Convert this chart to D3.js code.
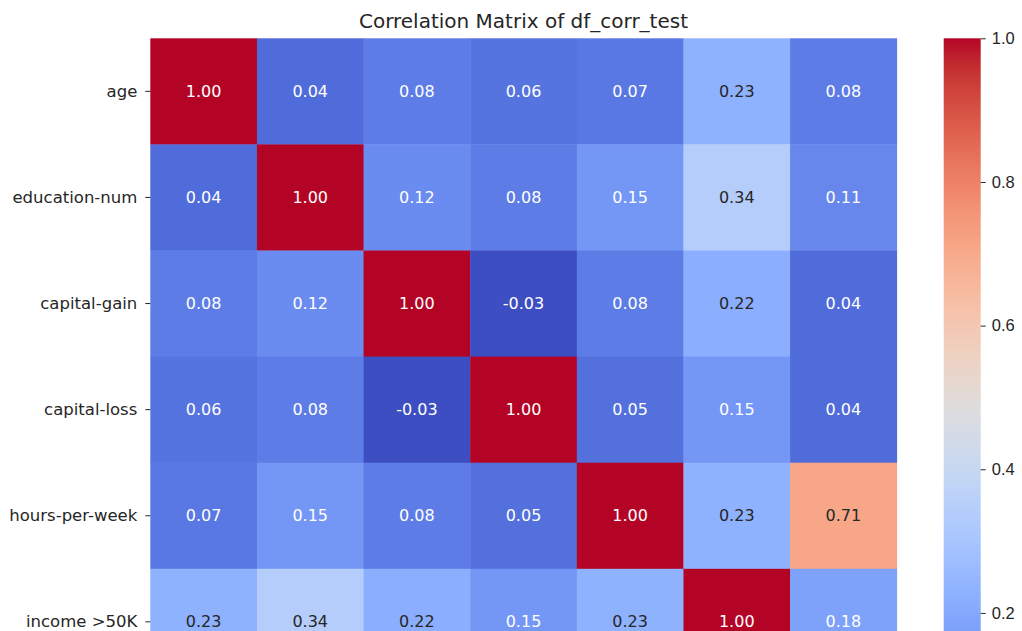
<!DOCTYPE html>
<html>
<head>
<meta charset="utf-8">
<script src="https://cdn.jsdelivr.net/npm/d3@7"></script>
<style>
  body { margin: 0; background: #fff; }
  svg { display: block; font-family: "DejaVu Sans", sans-serif; }
</style>
</head>
<body>
<script>
'use strict';

// variables of the matrix (last one is cut off below the frame in the reference)
const variables = ["age", "education-num", "capital-gain", "capital-loss",
                   "hours-per-week", "income >50K", "full-time"];

// correlation values, row by row
const corrRows = [
  [1.00, 0.04, 0.08, 0.06, 0.07, 0.23, 0.08],
  [0.04, 1.00, 0.12, 0.08, 0.15, 0.34, 0.11],
  [0.08, 0.12, 1.00, -0.03, 0.08, 0.22, 0.04],
  [0.06, 0.08, -0.03, 1.00, 0.05, 0.15, 0.04],
  [0.07, 0.15, 0.08, 0.05, 1.00, 0.23, 0.71],
  [0.23, 0.34, 0.22, 0.15, 0.23, 1.00, 0.18],
  [0.08, 0.11, 0.04, 0.04, 0.71, 0.18, 1.00]
];

const colorbarTicks = [0.0, 0.2, 0.4, 0.6, 0.8, 1.0];
const title = "Correlation Matrix of df_corr_test";

// matplotlib "coolwarm" (Moreland) control points
const coolwarmStops = [
  [59, 76, 192], [68, 90, 204], [77, 104, 215], [87, 117, 225], [98, 130, 234],
  [108, 142, 241], [119, 154, 247], [130, 165, 251], [141, 176, 254], [152, 185, 255],
  [163, 194, 255], [174, 201, 253], [184, 208, 249], [194, 213, 244], [204, 217, 238],
  [213, 219, 230], [221, 221, 221], [229, 216, 209], [236, 211, 197], [241, 204, 185],
  [245, 196, 173], [247, 187, 160], [247, 177, 148], [247, 166, 135], [244, 154, 123],
  [241, 141, 111], [236, 127, 99], [229, 112, 88], [222, 96, 77], [213, 80, 66],
  [203, 62, 56], [192, 40, 47], [180, 4, 38]
];

const W = 1022, H = 631;
const heat = { left: 150.3, right: 896.7, top: 38.3, bottom: 781 };
const cbar = { left: 943.7, right: 980.7 };
const vmin = -0.034, vmax = 1.0;

const coolwarm = d3.piecewise(d3.interpolateRgb,
  coolwarmStops.map(([r, g, b]) => d3.rgb(r, g, b)));

const color = d3.scaleSequential(coolwarm).domain([vmin, vmax]);

const x = d3.scaleBand().domain(variables).range([heat.left, heat.right]);
const y = d3.scaleBand().domain(variables).range([heat.top, heat.bottom]);

// seaborn picks annotation color from relative luminance
function luminance(c) {
  const rgb = d3.rgb(c);
  const lin = [rgb.r, rgb.g, rgb.b].map((v) => {
    v /= 255;
    return v <= 0.03928 ? v / 12.92 : Math.pow((v + 0.055) / 1.055, 2.4);
  });
  return 0.2126 * lin[0] + 0.7152 * lin[1] + 0.0722 * lin[2];
}

const svg = d3.select("body").append("svg")
  .attr("width", W)
  .attr("height", H);

const cells = [];
corrRows.forEach((row, i) => {
  row.forEach((v, j) => cells.push({ row: variables[i], col: variables[j], value: v }));
});

// heatmap cells
svg.append("g")
  .selectAll("rect")
  .data(cells)
  .enter()
  .append("rect")
    .attr("x", (d) => x(d.col))
    .attr("y", (d) => y(d.row))
    .attr("width", x.bandwidth() + 0.4)
    .attr("height", y.bandwidth() + 0.4)
    .attr("fill", (d) => color(d.value));

// annotations
svg.append("g")
  .selectAll("text")
  .data(cells)
  .enter()
  .append("text")
    .attr("x", (d) => x(d.col) + x.bandwidth() / 2)
    .attr("y", (d) => y(d.row) + y.bandwidth() / 2)
    .attr("text-anchor", "middle")
    .attr("dominant-baseline", "central")
    .attr("font-size", 16)
    .attr("fill", (d) => luminance(color(d.value)) > 0.408 ? "#262626" : "#ffffff")
    .text((d) => d.value.toFixed(2));

// row labels on the left
const yAxis = svg.append("g")
  .attr("transform", `translate(${heat.left},0)`)
  .call(d3.axisLeft(y).tickSize(5).tickPadding(8));
yAxis.select(".domain").remove();
yAxis.selectAll("text")
  .attr("font-size", 16.5)
  .attr("font-family", "DejaVu Sans, sans-serif")
  .attr("fill", "#262626");
yAxis.selectAll("line").attr("stroke", "#262626").attr("stroke-width", 1);

// column labels below (outside the frame in the reference)
const xAxis = svg.append("g")
  .attr("transform", `translate(0,${heat.bottom})`)
  .call(d3.axisBottom(x).tickSize(5).tickPadding(6));
xAxis.select(".domain").remove();
xAxis.selectAll("text").attr("font-size", 16.5).attr("fill", "#262626");

// title
svg.append("text")
  .attr("x", (heat.left + heat.right) / 2)
  .attr("y", 28)
  .attr("text-anchor", "middle")
  .attr("font-size", 20)
  .attr("fill", "#262626")
  .text(title);

// colorbar
const cbScale = d3.scaleLinear().domain([vmin, vmax]).range([heat.bottom, heat.top]);

const grad = svg.append("defs").append("linearGradient")
  .attr("id", "cb-grad")
  .attr("x1", 0).attr("y1", 1).attr("x2", 0).attr("y2", 0);
grad.selectAll("stop")
  .data(d3.range(0, 1.0001, 1 / 64))
  .enter()
  .append("stop")
    .attr("offset", (t) => t)
    .attr("stop-color", (t) => coolwarm(t));

svg.append("rect")
  .attr("x", cbar.left)
  .attr("y", heat.top)
  .attr("width", cbar.right - cbar.left)
  .attr("height", heat.bottom - heat.top)
  .attr("fill", "url(#cb-grad)");

const cbAxis = svg.append("g")
  .attr("transform", `translate(${cbar.right},0)`)
  .call(d3.axisRight(cbScale).tickValues(colorbarTicks).tickFormat(d3.format(".1f"))
    .tickSize(5).tickPadding(6));
cbAxis.select(".domain").remove();
cbAxis.selectAll("text").attr("font-size", 16.5).attr("fill", "#262626");
cbAxis.selectAll("line").attr("stroke", "#262626");
</script>
</body>
</html>
